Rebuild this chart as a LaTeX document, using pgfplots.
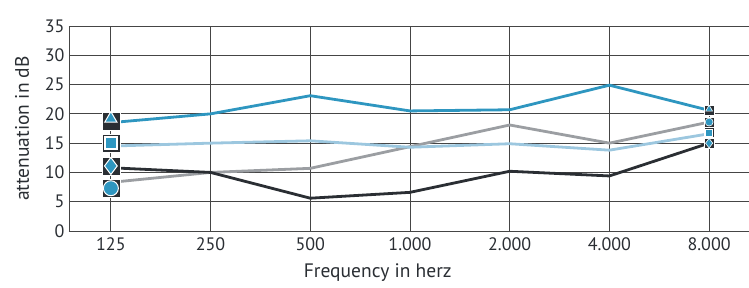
\documentclass[border=0pt]{standalone}
\usepackage{fontspec}
\setmainfont{PT Sans}
\usepackage{pgfplots}
\pgfplotsset{compat=1.18}
\definecolor{topblue}{HTML}{2E96C0}
\definecolor{lightblue}{HTML}{9CC7DF}
\definecolor{midgrey}{HTML}{9B9EA2}
\definecolor{darkc}{HTML}{2A2E33}
\definecolor{gridc}{HTML}{454545}
\begin{document}
\begin{tikzpicture}
\begin{axis}[
  at={(0,0)}, anchor=south west,
  scale only axis, width=680pt, height=205pt,
  xmin=-0.42, xmax=6.4, ymin=0, ymax=35,
  axis x line*=bottom, axis y line*=left,
  axis line style={gridc, line width=0.9pt},
  xtick={0,1,2,3,4,5,6},
  xticklabels={125,250,500,{1.000},{2.000},{4.000},{8.000}},
  ytick={0,5,10,15,20,25,30,35},
  grid=major,
  major grid style={gridc, line width=0.9pt},
  tick style={draw=none},
  /pgf/number format/assume math mode=true,
  ticklabel style={font=\fontsize{18}{18}\selectfont, text=darkc},
  xticklabel style={anchor=center, yshift=-13pt},
  yticklabel style={xshift=-1pt},
  xlabel={Frequency in herz},
  ylabel={attenuation in dB},
  every axis x label/.style={at={(axis description cs:0.454,0)}, anchor=center, yshift=-42pt, font=\fontsize{19.5}{19.5}\selectfont, text=darkc},
  every axis y label/.style={at={(axis description cs:-0.069,0.5)}, rotate=90, anchor=center, font=\fontsize{19.5}{19.5}\selectfont, text=darkc},
  clip=false,
]
% series
\addplot[midgrey, line width=2.8pt, mark=none] coordinates {(0,8.3)(1,10)(2,10.7)(3,14.4)(4,18.1)(5,15.0)(6,18.6)};
\addplot[lightblue, line width=2.8pt, mark=none] coordinates {(0,14.5)(1,15)(2,15.4)(3,14.3)(4,14.9)(5,13.8)(6,16.6)};
\addplot[darkc, line width=2.8pt, mark=none] coordinates {(0,10.8)(1,10)(2,5.6)(3,6.6)(4,10.2)(5,9.4)(6,15.0)};
\addplot[topblue, line width=2.8pt, mark=none] coordinates {(0,18.5)(1,20)(2,23.1)(3,20.5)(4,20.7)(5,24.9)(6,20.6)};
% markers at 125
\addplot[only marks, mark=square*, mark size=9pt, mark options={fill=darkc, draw=white, line width=0.6pt}] coordinates {(0,18.8)(0,15.0)(0,11.1)(0,7.3)};
\addplot[only marks, mark=triangle*, mark size=7pt, mark options={fill=topblue, draw=white, line width=1pt}] coordinates {(0,19.2)};
\addplot[only marks, mark=square*, mark size=6.5pt, mark options={fill=white, draw=white}] coordinates {(0,15.0)};
\addplot[only marks, mark=square*, mark size=5.5pt, mark options={fill=topblue, draw=white, line width=0.6pt}] coordinates {(0,15.0)};
\addplot[only marks, mark=diamond*, mark size=8.5pt, mark options={fill=topblue, draw=white, line width=1pt}] coordinates {(0,11.1)};
\addplot[only marks, mark=*, mark size=7.5pt, mark options={fill=topblue, draw=white, line width=1pt}] coordinates {(0,7.3)};
% markers at 8000
\addplot[only marks, mark=square*, mark size=5pt, mark options={fill=darkc, draw=white, line width=0.4pt}] coordinates {(6,20.6)(6,18.6)(6,16.8)(6,15.0)};
\addplot[only marks, mark=triangle*, mark size=4pt, mark options={fill=topblue, draw=white, line width=0.6pt}] coordinates {(6,20.8)};
\addplot[only marks, mark=*, mark size=4pt, mark options={fill=topblue, draw=white, line width=0.6pt}] coordinates {(6,18.6)};
\addplot[only marks, mark=square*, mark size=3.5pt, mark options={fill=topblue, draw=white, line width=0.6pt}] coordinates {(6,16.8)};
\addplot[only marks, mark=diamond*, mark size=4.8pt, mark options={fill=topblue, draw=white, line width=0.6pt}] coordinates {(6,15.0)};
\end{axis}
\pgfresetboundingbox
\path[use as bounding box] (-69pt,-56pt) rectangle (680pt,231pt);
\end{tikzpicture}
\end{document}
